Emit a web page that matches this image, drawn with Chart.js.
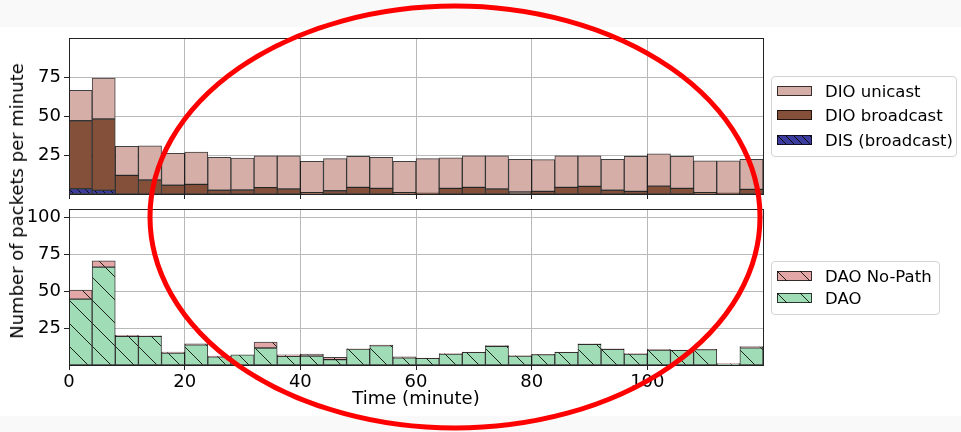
<!DOCTYPE html>
<html>
<head>
<meta charset="utf-8">
<script src="https://cdn.jsdelivr.net/npm/chart.js@4.4.1/dist/chart.umd.min.js"></script>
<style>
  html, body { margin: 0; padding: 0; }
  body { width: 961px; height: 432px; background: #f9f9f9; position: relative; overflow: hidden;
         font-family: "DejaVu Sans", sans-serif; color: #000; }
  #sheet { position: absolute; left: 0; top: 27px; width: 961px; height: 389px; background: #fff; }
  canvas.plot { position: absolute; left: 0; }
  #ylabel { position: absolute; left: 17px; top: 201px; font-size: 18px; line-height: 1;
            white-space: nowrap; transform: translate(-50%, -50%) rotate(-90deg); }
  .legend { position: absolute; border: 1px solid #d3d3d3; border-radius: 4px; background: #fff;
            box-sizing: border-box; font-size: 16.5px; }
  .row { position: absolute; left: 0; height: 20px; display: flex; align-items: center; }
  .row canvas { margin-left: 5px; margin-right: 13px; }
  #ring { position: absolute; left: 0; top: 0; pointer-events: none; }
</style>
</head>
<body>
<div id="sheet"></div>
<canvas id="topChart" class="plot" width="961" height="200" style="top:0"></canvas>
<canvas id="botChart" class="plot" width="961" height="216" style="top:200px"></canvas>
<div id="ylabel">Number of packets per minute</div>

<div class="legend" style="left:771px;top:76px;width:186px;height:81px">
  <div class="row" style="top:4px"><canvas id="sw0" width="35" height="10"></canvas>DIO unicast</div>
  <div class="row" style="top:28px"><canvas id="sw1" width="35" height="10"></canvas>DIO broadcast</div>
  <div class="row" style="top:53px"><canvas id="sw2" width="35" height="10"></canvas>DIS (broadcast)</div>
</div>
<div class="legend" style="left:771px;top:261px;width:169px;height:54px">
  <div class="row" style="top:4px"><canvas id="sw3" width="35" height="10"></canvas>DAO No-Path</div>
  <div class="row" style="top:26px"><canvas id="sw4" width="35" height="10"></canvas>DAO</div>
</div>

<svg id="ring" width="961" height="432">
  <ellipse cx="455" cy="217" rx="305" ry="211" fill="none" stroke="#ff0000" stroke-width="5"/>
</svg>

<script>
// bin centres (minutes), 4-minute bins
const binMid = [2, 6, 10, 14, 18, 22, 26, 30, 34, 38, 42, 46, 50, 54, 58,
                62, 66, 70, 74, 78, 82, 86, 90, 94, 98, 102, 106, 110, 114, 118];
const xTicks = [0, 20, 40, 60, 80, 100];
const topYTicks = [25, 50, 75];
const botYTicks = [25, 50, 75, 100];

// upper panel: DIS / DIO (packets per minute, stacked)
const disBroadcast = [3.4, 2.4, 0, 0, 0, 0, 0, 0, 0, 0, 0, 0, 0, 0, 0,
                      0, 0, 0, 0, 0, 0, 0, 0, 0, 0, 0, 0, 0, 0, 0];
const dioBroadcast = [43.7, 45.8, 12.0, 9.0, 5.6, 6.2, 2.4, 2.6, 4.1, 3.2, 0.9, 2.1, 4.3, 3.6, 0.9,
                      0.4, 3.6, 4.3, 3.2, 1.3, 1.7, 4.3, 4.9, 2.4, 1.7, 5.1, 3.6, 0.9, 0.4, 3.0];
const dioUnicast = [19.5, 26.3, 18.6, 22.0, 20.5, 20.8, 21.2, 20.5, 20.5, 21.4, 20.1, 20.6, 19.9, 20.0, 20.1,
                    22.3, 19.7, 20.3, 21.4, 21.0, 20.4, 20.3, 19.7, 19.9, 22.5, 20.8, 20.6, 20.5, 21.0, 19.3];

// lower panel: DAO
const dao = [44.6, 66.2, 19.4, 19.4, 8.1, 13.7, 5.6, 6.8, 11.5, 5.9, 6.1, 3.6, 10.8, 13.1, 4.9,
             4.5, 7.4, 8.6, 12.6, 6.1, 7.0, 8.6, 14.0, 10.6, 7.4, 10.1, 9.9, 10.4, 0.7, 11.7];
const daoNoPath = [6.1, 4.3, 0.6, 0.4, 0.7, 0.7, 0.5, 0, 4.0, 0.9, 1.3, 1.6, 0.2, 0.4, 0.7,
                   0.2, 0.3, 0.2, 0.5, 0.2, 0.2, 0.2, 0.4, 0.4, 0.3, 0.5, 0.2, 0.2, 0.2, 0.7];

const C_UNI = '#d5aea7', C_BRD = '#84503a', C_DIS = '#3c3c9e', C_NOP = '#e4a7a8', C_DAO = '#a0dcb5';
const EDGE = 'rgba(0,0,0,0.75)';
const GRID = '#b9b9b9';

function hatch(bg, step, off) {
    const c = document.createElement('canvas');
    c.width = step; c.height = step;
    const g = c.getContext('2d');
    g.fillStyle = bg; g.fillRect(0, 0, step, step);
    g.strokeStyle = 'rgba(0,0,0,0.85)'; g.lineWidth = 1;
    for (let k = -2; k <= 2; k++) {
        g.beginPath();
        g.moveTo(k * step - step, -step + off);
        g.lineTo(k * step + 2 * step, 2 * step + off);
        g.stroke();
    }
    return g.createPattern(c, 'repeat');
}

const pts = arr => binMid.map((x, i) => ({ x: x, y: arr[i] }));

const frame = {
    id: 'frame',
    afterDatasetsDraw(chart) {
        const a = chart.chartArea, ctx = chart.ctx;
        ctx.save();
        ctx.strokeStyle = '#222';
        ctx.lineWidth = 1;
        ctx.strokeRect(Math.round(a.left) + 0.5, Math.round(a.top) + 0.5,
                       Math.round(a.right - a.left), Math.round(a.bottom - a.top));
        ctx.restore();
    }
};

function bar(label, arr, color) {
    return { label: label, data: pts(arr), backgroundColor: color, borderColor: EDGE,
             borderWidth: 1, borderSkipped: false, barPercentage: 1, categoryPercentage: 1 };
}

// pin the plot box: no extra room for overhanging tick labels
function noPad(s) { s.paddingTop = 0; s.paddingBottom = 0; s.paddingLeft = 0; s.paddingRight = 0; }

function scales(yMax, yTicks, showX) {
    return {
        x: {
            type: 'linear', min: 0, max: 120, offset: false, stacked: true,
            afterBuildTicks: s => { s.ticks = xTicks.map(v => ({ value: v })); },
            afterFit: s => { s.height = showX ? 45 : 6; noPad(s); },
            grid: { offset: false, color: GRID, lineWidth: 1, drawTicks: true, tickLength: 5, tickColor: '#222' },
            border: { display: false },
            ticks: { display: showX, padding: 2, color: '#000', font: { family: 'DejaVu Sans', size: 18 } },
            title: { display: showX, text: 'Time (minute)', color: '#000', padding: { top: 0, bottom: 0 },
                     font: { family: 'DejaVu Sans', size: 18 } }
        },
        y: {
            min: 0, max: yMax, stacked: true,
            afterBuildTicks: s => { s.ticks = yTicks.map(v => ({ value: v })); },
            afterFit: s => { s.width = 69; noPad(s); },
            grid: { color: GRID, lineWidth: 1, tickLength: 5, tickColor: '#222' },
            border: { display: false },
            ticks: { padding: 3, color: '#000', font: { family: 'DejaVu Sans', size: 18 } }
        }
    };
}

const common = {
    responsive: false,
    animation: false,
    plugins: { legend: { display: false }, tooltip: { enabled: false } }
};

const tctx = document.getElementById('topChart').getContext('2d');
new Chart(tctx, {
    type: 'bar',
    data: { datasets: [
        bar('DIS (broadcast)', disBroadcast, hatch(C_DIS, 8, 0)),
        bar('DIO broadcast', dioBroadcast, C_BRD),
        bar('DIO unicast', dioUnicast, C_UNI)
    ] },
    options: Object.assign({}, common, {
        layout: { padding: { top: 38, right: 198, left: 0, bottom: 0 } },
        scales: scales(100.3, topYTicks, false)
    }),
    plugins: [frame]
});

const bctx = document.getElementById('botChart').getContext('2d');
new Chart(bctx, {
    type: 'bar',
    data: { datasets: [
        bar('DAO', dao, hatch(C_DAO, 23, 8)),
        bar('DAO No-Path', daoNoPath, hatch(C_NOP, 23, 8))
    ] },
    options: Object.assign({}, common, {
        layout: { padding: { top: 9, right: 198, left: 0, bottom: 6 } },
        scales: scales(105.6, botYTicks, true)
    }),
    plugins: [frame]
});

// legend swatches
function swatch(id, fill, step, off) {
    const c = document.getElementById(id), g = c.getContext('2d');
    g.fillStyle = step ? hatch(fill, step, off) : fill;
    g.fillRect(0, 0, c.width, c.height);
    g.strokeStyle = EDGE; g.lineWidth = 1;
    g.strokeRect(0.5, 0.5, c.width - 1, c.height - 1);
}
swatch('sw0', C_UNI);
swatch('sw1', C_BRD);
swatch('sw2', C_DIS, 8, 0);
swatch('sw3', C_NOP, 23, 0);
swatch('sw4', C_DAO, 23, 0);
</script>
</body>
</html>
